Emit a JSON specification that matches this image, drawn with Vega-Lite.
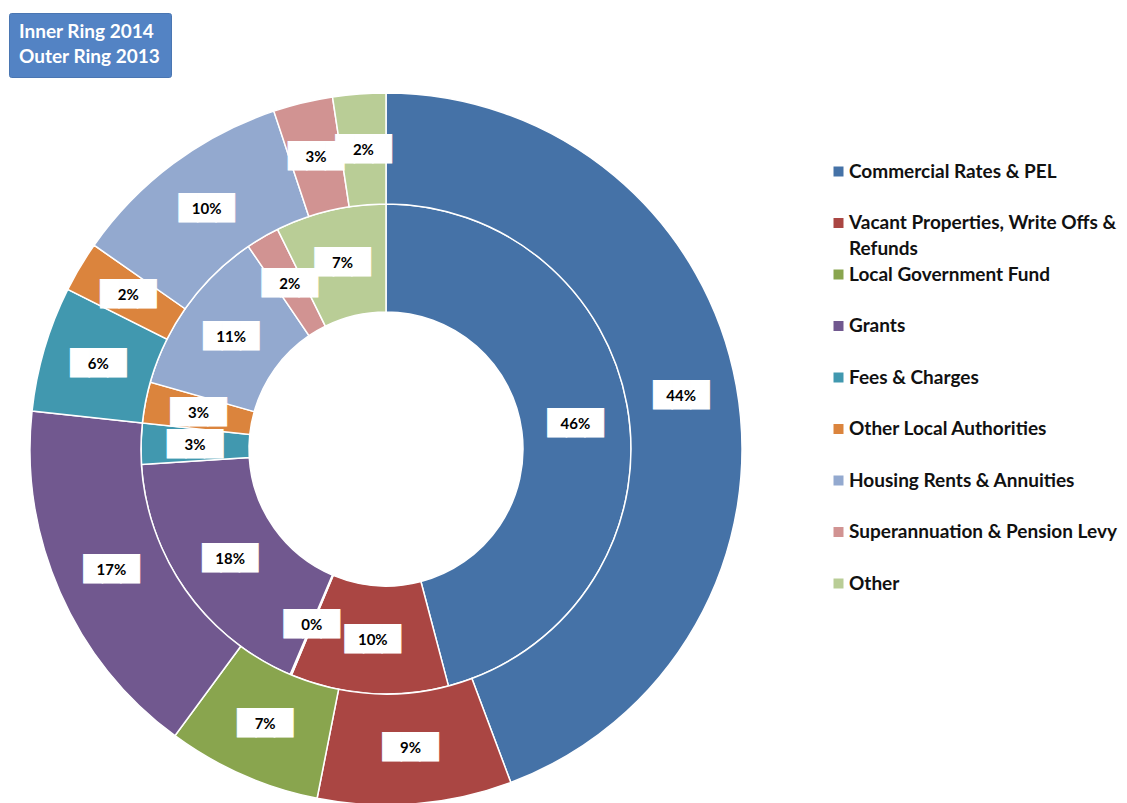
{
  "$schema": "https://vega.github.io/schema/vega-lite/v6.json",
  "width": 772,
  "height": 708,
  "autosize": {"type": "none"},
  "padding": {"left": 0, "top": 95, "right": 355, "bottom": 0},
  "background": "white",
  "config": {"view": {"stroke": null}, "style": {"guide-label": {"lineHeight": 26}}},
  "data": {
    "values": [
      {"ring": "2014", "idx": 1, "category": "Commercial Rates & PEL", "value": 0.459},
      {"ring": "2014", "idx": 2, "category": "Vacant Properties, Write Offs & Refunds", "value": 0.104},
      {"ring": "2014", "idx": 3, "category": "Local Government Fund", "value": 0.001},
      {"ring": "2014", "idx": 4, "category": "Grants", "value": 0.176},
      {"ring": "2014", "idx": 5, "category": "Fees & Charges", "value": 0.027},
      {"ring": "2014", "idx": 6, "category": "Other Local Authorities", "value": 0.027},
      {"ring": "2014", "idx": 7, "category": "Housing Rents & Annuities", "value": 0.111},
      {"ring": "2014", "idx": 8, "category": "Superannuation & Pension Levy", "value": 0.022},
      {"ring": "2014", "idx": 9, "category": "Other", "value": 0.073},
      {"ring": "2013", "idx": 1, "category": "Commercial Rates & PEL", "value": 0.443},
      {"ring": "2013", "idx": 2, "category": "Vacant Properties, Write Offs & Refunds", "value": 0.088},
      {"ring": "2013", "idx": 3, "category": "Local Government Fund", "value": 0.070},
      {"ring": "2013", "idx": 4, "category": "Grants", "value": 0.166},
      {"ring": "2013", "idx": 5, "category": "Fees & Charges", "value": 0.057},
      {"ring": "2013", "idx": 6, "category": "Other Local Authorities", "value": 0.023},
      {"ring": "2013", "idx": 7, "category": "Housing Rents & Annuities", "value": 0.102},
      {"ring": "2013", "idx": 8, "category": "Superannuation & Pension Levy", "value": 0.027},
      {"ring": "2013", "idx": 9, "category": "Other", "value": 0.024}
    ]
  },
  "encoding": {
    "theta": {"field": "value", "type": "quantitative", "stack": true},
    "order": {"field": "idx", "type": "quantitative"}
  },
  "layer": [
    {
      "transform": [{"filter": "datum.ring == '2014'"}],
      "mark": {"type": "arc", "innerRadius": 137, "outerRadius": 245, "stroke": "white", "strokeWidth": 1.5},
      "encoding": {
        "color": {
          "field": "category", "type": "nominal",
          "scale": {
            "domain": ["Commercial Rates & PEL", "Vacant Properties, Write Offs & Refunds", "Local Government Fund", "Grants", "Fees & Charges", "Other Local Authorities", "Housing Rents & Annuities", "Superannuation & Pension Levy", "Other"],
            "range": ["#4572A7", "#AA4643", "#89A54E", "#71588F", "#4198AF", "#DB843D", "#93A9CF", "#D19392", "#B9CD96"]
          },
          "legend": {
            "title": null,
            "orient": "none",
            "legendX": 829,
            "legendY": 67,
            "padding": 0,
            "symbolType": "square",
            "symbolSize": 100,
            "symbolStrokeWidth": 0,
            "labelFont": "Lato",
            "labelFontSize": 19,
            "labelFontWeight": "bold",
            "labelColor": "#111111",
            "labelLimit": 400,
            "labelOffset": 1,
            "rowPadding": 5.5,
            "gridAlign": "all",
            "labelExpr": "datum.label == 'Vacant Properties, Write Offs & Refunds' ? ['Vacant Properties, Write Offs &', 'Refunds'] : datum.label"
          }
        },
        "opacity": {
          "field": "ring", "type": "ordinal",
          "scale": {"domain": ["2014"], "range": [1, 1]},
          "legend": {
            "title": ["Inner Ring 2014", "Outer Ring 2013"],
            "orient": "none",
            "legendX": 9,
            "legendY": -82,
            "fillColor": "#5383C4",
            "strokeColor": "#4A76B2",
            "cornerRadius": 2,
            "padding": 10,
            "titleColor": "white",
            "titleFont": "Lato",
            "titleFontSize": 19,
            "titleFontWeight": "bold",
            "titleLineHeight": 25,
            "titlePadding": -7,
            "symbolSize": 0,
            "symbolOpacity": 0,
            "labelFontSize": 1,
            "labelOpacity": 0,
            "values": ["2014"]
          }
        }
      }
    },
    {
      "transform": [{"filter": "datum.ring == '2013'"}],
      "mark": {"type": "arc", "innerRadius": 245, "outerRadius": 356, "stroke": "white", "strokeWidth": 1.5},
      "encoding": {"color": {"field": "category", "type": "nominal"}}
    },
    {
      "transform": [{"filter": "datum.ring == '2014'"}],
      "mark": {"type": "text", "radius": 191, "font": "DejaVu Sans", "fontSize": 24, "color": "white", "stroke": "white", "strokeWidth": 1, "baseline": "middle"},
      "encoding": {"text": {"value": "███"}}
    },
    {
      "transform": [{"filter": "datum.ring == '2014'"}],
      "mark": {"type": "text", "radius": 191, "font": "Lato", "fontSize": 15, "fontWeight": "bold", "color": "black", "baseline": "middle"},
      "encoding": {"text": {"field": "value", "type": "quantitative", "format": ".0%"}}
    },
    {
      "transform": [{"filter": "datum.ring == '2013'"}],
      "mark": {"type": "text", "radius": 300, "font": "DejaVu Sans", "fontSize": 24, "color": "white", "stroke": "white", "strokeWidth": 1, "baseline": "middle"},
      "encoding": {"text": {"value": "███"}}
    },
    {
      "transform": [{"filter": "datum.ring == '2013'"}],
      "mark": {"type": "text", "radius": 300, "font": "Lato", "fontSize": 15, "fontWeight": "bold", "color": "black", "baseline": "middle"},
      "encoding": {"text": {"field": "value", "type": "quantitative", "format": ".0%"}}
    }
  ]
}
